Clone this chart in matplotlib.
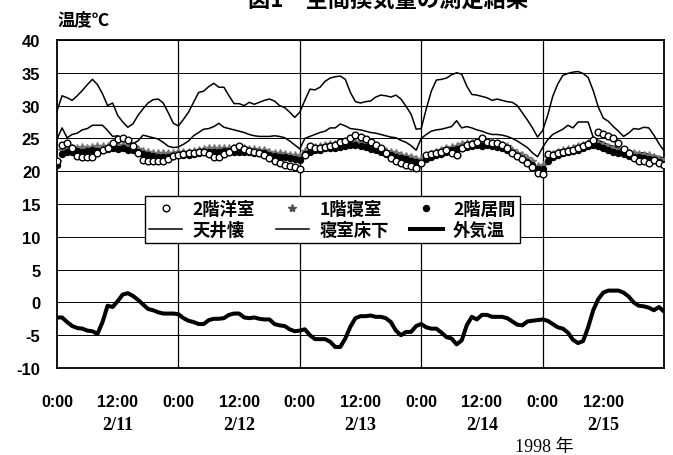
import numpy as np
import matplotlib
matplotlib.use('Agg')
from matplotlib import pyplot as plt
from matplotlib.lines import Line2D

plt.rcParams['font.family'] = ['Noto Sans CJK JP', 'DejaVu Sans']
plt.rcParams['axes.unicode_minus'] = False

# hourly data, 1998/2/11 0:00 - 2/16 0:00
hours = np.arange(121)

yoshitsu_2f = [21.5,24.0,24.3,23.5,22.3,22.2,22.2,22.2,22.8,23.3,
               23.6,24.3,24.9,25.0,24.8,23.8,22.8,21.7,21.5,21.5,
               21.5,21.5,21.8,22.3,22.4,22.6,22.7,22.8,22.9,23.0,
               22.6,22.1,22.1,22.6,23.0,23.5,23.8,23.4,23.1,23.0,
               22.8,22.4,22.0,21.6,21.2,21.0,20.8,20.6,20.4,22.5,
               23.8,23.6,23.6,23.7,23.9,24.0,24.4,24.6,25.0,25.5,
               25.2,24.9,24.4,24.0,23.5,22.8,22.0,21.6,21.3,21.0,
               20.8,20.5,21.2,22.4,22.6,22.8,23.0,23.2,22.8,22.5,
               23.5,24.0,24.2,24.4,25.0,24.4,24.3,24.3,24.0,23.6,
               22.8,22.3,21.8,21.2,20.6,19.7,19.5,22.6,22.5,22.8,
               23.0,23.1,23.3,23.5,23.8,24.2,24.8,26.0,25.6,25.4,
               25.0,24.3,23.4,22.8,22.0,21.6,21.5,21.3,21.7,21.3,
               21.0]

shinshitsu_1f = [21.5,23.2,23.4,23.5,23.6,23.7,23.6,23.7,23.8,23.8,
                 23.9,24.0,24.0,24.0,23.9,23.7,23.4,23.1,22.9,22.8,
                 22.7,22.7,22.7,22.8,22.9,23.0,23.0,23.1,23.2,23.4,
                 23.5,23.5,23.5,23.6,23.6,23.6,23.5,23.5,23.4,23.4,
                 23.3,23.2,23.0,22.8,22.7,22.6,22.5,22.4,22.3,23.1,
                 23.5,23.7,23.9,24.0,24.1,24.1,24.2,24.4,24.6,24.5,
                 24.4,24.2,24.0,23.7,23.4,23.1,22.9,22.7,22.5,22.3,
                 22.1,21.9,21.8,22.3,22.6,22.9,23.2,23.5,23.7,23.9,
                 24.1,24.3,24.4,24.5,24.5,24.5,24.4,24.2,24.0,23.8,
                 23.3,22.8,22.4,22.0,21.5,20.8,20.9,22.2,22.6,23.0,
                 23.3,23.4,23.6,23.8,24.0,24.3,24.5,24.3,24.0,23.7,
                 23.4,23.3,23.1,22.8,22.7,22.6,22.5,22.4,22.2,21.9,
                 21.6]

ima_2f = [21.0,22.6,22.9,23.0,23.1,23.0,23.1,23.2,23.1,23.3,
          23.4,23.5,23.4,23.5,23.3,23.2,22.9,22.6,22.4,22.3,
          22.2,22.2,22.2,22.3,22.4,22.5,22.5,22.6,22.7,22.9,
          23.0,23.0,22.9,23.1,23.1,23.0,23.0,22.9,22.9,22.8,
          22.8,22.7,22.5,22.3,22.2,22.1,22.0,21.9,21.7,22.6,
          23.0,23.2,23.3,23.5,23.5,23.6,23.7,23.8,24.0,24.0,
          23.8,23.7,23.4,23.2,22.9,22.6,22.4,22.2,22.0,21.8,
          21.6,21.4,21.2,21.8,22.1,22.4,22.6,23.0,23.2,23.4,
          23.6,23.7,23.9,24.0,23.9,24.0,23.8,23.7,23.5,23.2,
          22.8,22.3,21.9,21.4,21.0,20.3,20.4,21.6,22.1,22.5,
          22.8,22.9,23.1,23.3,23.5,23.8,24.0,23.8,23.5,23.2,
          22.9,22.8,22.6,22.3,22.2,22.1,22.0,21.9,21.7,21.4,
          21.1]

tenjou = [29.2,31.5,31.2,30.8,31.5,32.3,33.2,34.0,33.2,31.8,
          30.0,30.4,28.5,27.5,26.7,27.2,28.5,29.5,30.4,30.9,
          31.0,30.4,28.9,27.3,26.9,27.9,29.0,30.5,32.0,32.2,
          32.9,33.4,32.8,32.8,31.5,30.3,30.3,30.0,30.5,30.2,
          30.5,30.8,31.0,30.7,30.0,29.7,29.0,28.2,29.0,30.8,
          32.5,32.4,32.8,33.7,34.2,34.4,34.5,34.0,32.0,30.6,
          30.4,30.6,30.7,31.3,31.6,31.5,31.3,31.6,31.0,29.9,
          28.7,26.4,26.5,29.5,32.2,33.9,34.0,34.2,34.7,35.0,
          34.8,33.0,31.7,31.6,31.4,31.2,30.8,31.0,30.8,30.6,
          30.5,30.0,28.9,27.8,26.6,25.2,26.2,28.5,31.4,33.3,
          34.6,34.9,35.1,35.2,34.9,34.3,32.3,29.8,28.1,27.6,
          26.8,26.1,25.3,25.8,26.5,26.4,26.7,26.6,25.5,24.2,
          23.1]

yukashita = [24.9,26.6,25.1,25.6,25.8,26.3,26.5,27.0,27.0,27.0,
             26.2,25.3,25.4,25.0,24.6,24.2,24.6,25.5,25.3,25.1,
             24.9,24.4,23.8,23.6,23.7,24.1,24.6,25.4,25.9,26.4,
             26.5,26.8,27.3,26.7,26.5,26.3,26.1,25.9,25.6,25.4,
             25.3,25.3,25.3,25.4,25.3,25.1,24.6,24.0,23.4,25.0,
             25.3,25.6,25.9,26.1,26.6,26.6,27.2,26.9,26.5,26.4,
             26.3,26.1,25.9,25.8,25.6,25.4,25.2,25.1,24.7,24.4,
             23.9,23.2,25.0,25.6,26.1,26.3,26.4,26.6,26.8,27.7,
             26.6,26.8,26.6,26.3,26.1,25.8,25.6,25.6,25.5,25.3,
             25.0,24.6,24.1,23.6,22.8,22.2,23.6,24.8,25.6,26.0,
             26.4,27.0,26.6,27.5,27.5,27.5,25.2,24.7,24.4,24.0,
             23.8,23.6,23.2,23.0,22.9,22.8,22.8,22.6,22.4,22.2,
             22.0]

gaikion = [-2.3,-2.3,-3.0,-3.6,-3.9,-4.0,-4.3,-4.4,-4.8,-3.0,
           -0.5,-0.7,0.2,1.2,1.4,1.0,0.4,-0.3,-1.0,-1.2,
           -1.5,-1.7,-1.7,-1.7,-1.8,-2.4,-2.8,-3.0,-3.3,-3.3,
           -2.7,-2.5,-2.5,-2.4,-1.9,-1.7,-1.7,-2.3,-2.4,-2.3,
           -2.5,-2.6,-2.6,-3.3,-3.5,-3.6,-4.1,-4.4,-4.3,-4.1,
           -5.0,-5.6,-5.6,-5.6,-6.0,-6.8,-6.8,-5.5,-3.7,-2.4,
           -2.1,-2.1,-2.0,-2.2,-2.2,-2.4,-3.0,-4.3,-5.0,-4.5,
           -4.5,-3.6,-3.3,-3.8,-4.0,-4.0,-4.6,-5.3,-5.5,-6.4,
           -5.8,-3.5,-2.2,-2.6,-1.9,-1.9,-2.2,-2.2,-2.2,-2.4,
           -2.9,-3.4,-3.5,-2.9,-2.8,-2.7,-2.6,-2.8,-3.3,-3.8,
           -4.0,-4.6,-5.7,-6.2,-5.9,-3.8,-1.2,0.5,1.5,1.8,
           1.8,1.8,1.5,0.9,0.0,-0.5,-0.6,-0.8,-1.2,-0.7,
           -1.4]

xticks = np.arange(0, 120, 12)
xticklabels = ['0:00', '12:00'] * 5
date_pos = [12, 36, 60, 84, 108]
date_labels = ['2/11', '2/12', '2/13', '2/14', '2/15']

fig = plt.figure(figsize=(6.73, 4.56), dpi=100)
ax = fig.add_axes([57/673, 1-369/456, 607/673, 328/456])

ax.plot(hours, tenjou, color='black', lw=1.1, zorder=3)
ax.plot(hours, yukashita, color='black', lw=1.1, zorder=3)
ax.plot(hours, gaikion, color='black', lw=2.9, zorder=3)
ax.plot(hours, shinshitsu_1f, ls='none', marker='*', ms=6, color='0.45', zorder=4)
ax.plot(hours, ima_2f, ls='none', marker='o', ms=4.3, color='black', zorder=5)
ax.plot(hours, yoshitsu_2f, ls='none', marker='o', ms=4.8, mfc='white', mec='black',
        mew=1.0, zorder=6)

ax.set_xlim(0, 120)
ax.set_ylim(-10, 40)
ax.set_yticks(np.arange(-10, 41, 5))
ax.set_xticks(xticks)
ax.set_xticklabels(xticklabels)
ax.grid(axis='y', color='black', lw=0.7)
for d in [24, 48, 72, 96]:
    ax.axvline(d, color='black', lw=0.9, zorder=1)
ax.tick_params(length=0)
ax.tick_params(axis='x', pad=19)
ax.tick_params(axis='y', pad=12)
for lab in ax.get_xticklabels():
    lab.set_fontfamily('Liberation Sans')
    lab.set_fontweight('bold')
    lab.set_fontsize(11.5)
for lab in ax.get_yticklabels():
    lab.set_fontfamily('Liberation Sans')
    lab.set_fontweight('bold')
    lab.set_fontsize(12)
for s in ax.spines.values():
    s.set_linewidth(1.3)

for p, t in zip(date_pos, date_labels):
    ax.text(p, -0.173, t, transform=ax.get_xaxis_transform(), ha='center', va='center',
            fontfamily='Liberation Serif', fontweight='bold', fontsize=13)
fig.text(544/673, 1-448/456, '1998 年', ha='center', va='center',
         fontfamily=['Liberation Serif', 'Noto Sans CJK JP'], fontsize=13)
fig.text(84/673, 1-20/456, '温度℃', ha='center', va='center', fontweight='bold', fontsize=12.5)
fig.text(388/673, 1.0, '図1　空間換気量の測定結果', ha='center', va='center',
         fontweight='bold', fontsize=16)

handles = [
    Line2D([], [], ls='none', marker='o', ms=4.8, mfc='white', mec='black', mew=1.0),
    Line2D([], [], color='black', lw=1.1),
    Line2D([], [], ls='none', marker='*', ms=6, color='0.3'),
    Line2D([], [], color='black', lw=1.1),
    Line2D([], [], ls='none', marker='o', ms=4.3, color='black'),
    Line2D([], [], color='black', lw=2.9),
]
labels = ['2階洋室', '天井懐', '1階寝室', '寝室床下', '2階居間', '外気温']
leg = ax.legend(handles, labels, ncol=3, loc='upper left',
                bbox_to_anchor=((145-57)/607, (369-197)/328),
                frameon=True, fancybox=False, framealpha=1, edgecolor='black',
                prop={'weight': 'bold', 'size': 12.5}, handlelength=1.9,
                columnspacing=1.2, labelspacing=0.15, borderpad=0.25, handletextpad=0.6,
                borderaxespad=0)
leg.get_frame().set_linewidth(1.0)
leg.set_zorder(10)

fig.savefig('out.png', dpi=100)
